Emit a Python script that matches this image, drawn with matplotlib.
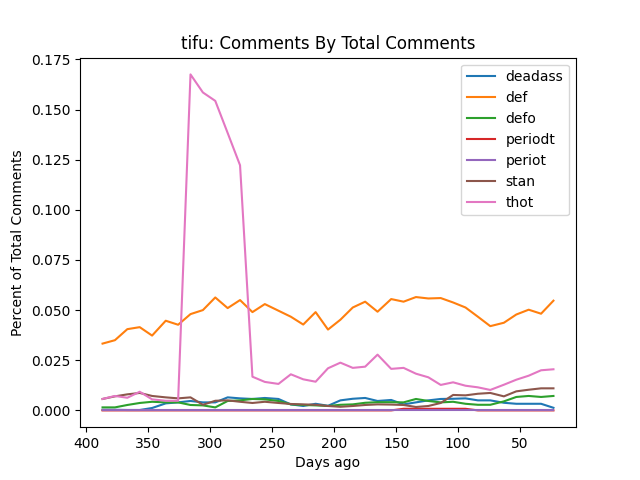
import matplotlib
matplotlib.use("Agg")
import matplotlib.pyplot as plt

# days ago for each sample (x axis, shown reversed)
days = [387, 377, 367, 357, 347, 336, 326, 316, 306, 296, 286, 276, 266,
        256, 245, 235, 225, 215, 205, 195, 185, 175, 165, 154, 144, 134,
        124, 114, 104, 94, 84, 74, 63, 53, 43, 33, 23]

deadass = [0.0003, 0.0003, 0.0002, 0.0002, 0.0012, 0.0035, 0.0040, 0.0047,
           0.0040, 0.0040, 0.0065, 0.0060, 0.0057, 0.0062, 0.0057, 0.0030,
           0.0022, 0.0033, 0.0023, 0.0050, 0.0058, 0.0062, 0.0047, 0.0052,
           0.0030, 0.0040, 0.0050, 0.0057, 0.0058, 0.0060, 0.0050, 0.0050,
           0.0038, 0.0033, 0.0033, 0.0033, 0.0013]

def_ = [0.0333, 0.0350, 0.0405, 0.0415, 0.0373, 0.0447, 0.0427, 0.0480,
        0.0500, 0.0563, 0.0510, 0.0550, 0.0490, 0.0530, 0.0497, 0.0467,
        0.0428, 0.0490, 0.0403, 0.0452, 0.0513, 0.0542, 0.0492, 0.0555,
        0.0542, 0.0565, 0.0558, 0.0560, 0.0538, 0.0513, 0.0467, 0.0420,
        0.0437, 0.0478, 0.0502, 0.0482, 0.0547]

defo = [0.0015, 0.0015, 0.0027, 0.0037, 0.0043, 0.0040, 0.0040, 0.0027,
        0.0025, 0.0015, 0.0047, 0.0050, 0.0057, 0.0055, 0.0047, 0.0030,
        0.0027, 0.0025, 0.0022, 0.0028, 0.0030, 0.0038, 0.0041, 0.0041,
        0.0040, 0.0057, 0.0047, 0.0040, 0.0043, 0.0033, 0.0028, 0.0028,
        0.0045, 0.0067, 0.0072, 0.0067, 0.0072]

periodt = [0, 0, 0, 0, 0, 0, 0, 0, 0, 0, 0, 0, 0, 0, 0, 0, 0, 0, 0, 0, 0,
           0, 0, 0, 0.0008, 0.0008, 0.0008, 0.0008, 0.0008, 0.0008, 0, 0,
           0, 0, 0, 0, 0]

periot = [0] * 37

stan = [0.0057, 0.0070, 0.0080, 0.0087, 0.0072, 0.0065, 0.0060, 0.0065,
        0.0028, 0.0048, 0.0050, 0.0043, 0.0037, 0.0043, 0.0037, 0.0032,
        0.0030, 0.0028, 0.0022, 0.0018, 0.0022, 0.0027, 0.0030, 0.0029,
        0.0027, 0.0017, 0.0022, 0.0037, 0.0077, 0.0075, 0.0083, 0.0087,
        0.0070, 0.0095, 0.0103, 0.0110, 0.0110]

thot = [0.0057, 0.0072, 0.0063, 0.0093, 0.0055, 0.0048, 0.0048, 0.1675,
        0.1585, 0.1543, 0.1383, 0.1222, 0.0168, 0.0142, 0.0132, 0.0180,
        0.0155, 0.0143, 0.0210, 0.0238, 0.0212, 0.0218, 0.0278, 0.0207,
        0.0212, 0.0183, 0.0165, 0.0127, 0.0140, 0.0123, 0.0115, 0.0102,
        0.0128, 0.0153, 0.0173, 0.0200, 0.0205]

series = [("deadass", deadass), ("def", def_), ("defo", defo),
          ("periodt", periodt), ("periot", periot), ("stan", stan),
          ("thot", thot)]

fig, ax = plt.subplots(figsize=(6.4, 4.8), dpi=100)
for name, vals in series:
    ax.plot(days, vals, label=name)

ax.invert_xaxis()
ax.set_title("tifu: Comments By Total Comments")
ax.set_xlabel("Days ago")
ax.set_ylabel("Percent of Total Comments")
ax.legend(loc="upper right")

fig.savefig("out.png", dpi=100)
